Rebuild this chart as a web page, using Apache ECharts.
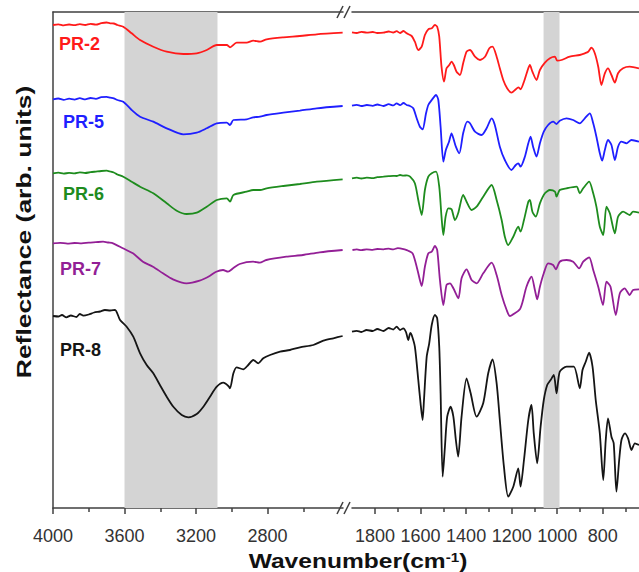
<!DOCTYPE html>
<html><head><meta charset="utf-8">
<script src="https://cdn.jsdelivr.net/npm/echarts@6/dist/echarts.min.js"></script>
<style>html,body{margin:0;padding:0;background:#fff}#c{width:639px;height:572px}</style>
</head><body><div id="c"></div>
<script>
// ---- data (wavenumber cm-1, reflectance arb. units, offset stacked) ----
const seriesNames = ['PR-2', 'PR-5', 'PR-6', 'PR-7', 'PR-8'];
const seriesColors = ['#ff1a1a', '#1f1fff', '#1e8c1e', '#931f96', '#151515'];
const leftLabels = [4000, 3600, 3200, 2800];
const leftMinor = [3800, 3400, 3000, 2600];
const rightLabels = [1800, 1600, 1400, 1200, 1000, 800];
const rightMinor = [1700, 1500, 1300, 1100, 900, 700];
const shadeLeft = [3600, 3080];
const shadeRight = [1060, 990];

const pr2Left = [[4000,483],[3970,483.7],[3940,482.6],[3910,483.5],[3880,482.8],[3850,483.9],[3820,483],[3790,484.2],[3760,483.3],[3730,484.8],[3700,485.5],[3680,484.6],[3660,484.5],[3640,483],[3607,481.3],[3560,474.7],[3513,468],[3439,461.3],[3364,456.3],[3271,454],[3196,454.7],[3140,458],[3084,463],[3028,463],[3010,460.7],[2973,465.3],[2917,465.3],[2880,467.3],[2842,466.3],[2805,468.7],[2712,470.7],[2619,472],[2525,473.7],[2380,475.3]];
const pr2Right = [[1901,475.7],[1880,475],[1860,476.2],[1836,475.3],[1810,476],[1790,475],[1763,475.3],[1740,476.5],[1720,475.5],[1705,476.8],[1690,475],[1675,477],[1661,474.7],[1639,472],[1625,466.3],[1610,458],[1595,461.3],[1581,473],[1566,478.7],[1551,479.7],[1537,483],[1527,481.3],[1518,471.3],[1508,441.3],[1497,426.3],[1486,439.7],[1474,443],[1464,446.3],[1454,443],[1442,436.3],[1427,433],[1413,444.7],[1398,456.3],[1383,458],[1361,451.3],[1339,448],[1317,451.3],[1298,459.7],[1284,461.3],[1266,451.3],[1252,439.7],[1237,428],[1220,419.7],[1201,415.3],[1182,418.7],[1171,420.7],[1161,418.7],[1146,426.3],[1132,436.3],[1120,443],[1109,436.3],[1091,428],[1076,438],[1054,445.3],[1032,449.7],[1010,451.3],[1000,447.3],[981,448],[945,451.3],[901,453],[879,454.7],[864,456.3],[850,460.3],[835,454.7],[820,441.3],[806,423],[791,434.7],[777,439.7],[762,433],[747,425.3],[733,434.7],[711,439.7],[682,441.3],[641,439.7]];

const pr5Left = [[4000,408.7],[3970,409.5],[3940,408.2],[3910,409.3],[3880,408.4],[3850,409.8],[3820,408.6],[3790,410],[3760,409.2],[3730,410.8],[3700,411.2],[3680,410.3],[3660,409.7],[3640,408],[3607,406.3],[3560,398],[3513,391.3],[3439,386.3],[3364,379.7],[3271,373.7],[3196,375.3],[3140,379.7],[3084,384.7],[3028,385.3],[3010,383],[2991,388],[2917,388.7],[2880,390.7],[2842,391.3],[2805,393],[2712,395.3],[2619,397.3],[2525,399.7],[2380,402]];
const pr5Right = [[1901,402.3],[1880,403.2],[1860,402],[1836,403],[1810,402.2],[1790,403.5],[1763,402],[1740,403.8],[1720,402.6],[1705,404.7],[1690,402.8],[1675,405],[1661,403],[1647,402],[1632,399.7],[1617,389.7],[1603,381.3],[1591,378.7],[1576,394.7],[1566,403],[1551,408],[1532,413],[1522,408],[1512,381.3],[1500,346.3],[1489,358],[1475,366.3],[1464,374.7],[1456,369.7],[1445,361.3],[1430,354.7],[1413,374.7],[1395,386.3],[1383,384.7],[1361,376.3],[1332,373],[1310,379.7],[1288,389.7],[1274,383],[1252,361.3],[1230,348],[1201,338],[1182,343],[1171,344.7],[1161,341.3],[1142,351.3],[1127,364.7],[1117,371.3],[1106,361.3],[1091,351.3],[1076,364.7],[1059,376.3],[1040,383],[1018,386.3],[1003,384],[989,387.3],[959,389.7],[930,388],[901,384.7],[879,389.7],[857,394.7],[842,384.7],[828,371.3],[813,354.7],[803,347.3],[791,358],[777,368],[762,363],[747,348],[733,361.3],[718,366.3],[696,364.7],[674,368],[641,366.3]];

const pr6Left = [[4000,334.7],[3970,335.3],[3940,334.4],[3910,335.1],[3880,334.6],[3850,335.6],[3820,335],[3790,335.8],[3760,336.4],[3730,337],[3700,337.3],[3680,336.5],[3660,335.5],[3640,333.5],[3607,331.3],[3560,326.3],[3513,321.3],[3439,314.7],[3364,304.7],[3308,297.3],[3252,294],[3196,295.3],[3140,301.3],[3084,308],[3028,309.7],[3010,306.3],[2991,313],[2917,316.3],[2880,318],[2842,318],[2805,319.7],[2712,322],[2619,324],[2525,326.3],[2380,328.7]];
const pr6Right = [[1901,329.7],[1880,330.4],[1860,329.5],[1836,330.3],[1810,329.8],[1790,330.8],[1763,331.3],[1740,331.8],[1720,332.2],[1705,332],[1690,333],[1675,332.4],[1660,332.6],[1646,331.3],[1625,324.7],[1610,308],[1595,293],[1581,318],[1566,331.3],[1551,334.7],[1532,336.3],[1518,321.3],[1508,291.3],[1500,273],[1490,291.3],[1478,299.7],[1464,298.7],[1449,288],[1435,294.7],[1413,313],[1398,306.3],[1376,298],[1354,301.3],[1325,311.3],[1288,323],[1266,308],[1244,288],[1230,271.3],[1215,263],[1193,271.3],[1171,281.3],[1161,276.3],[1146,288],[1127,306.3],[1120,308],[1109,296.3],[1094,291.3],[1076,304.7],[1054,314.7],[1032,318],[1010,316.3],[1003,311.3],[989,318],[959,319.7],[915,321.3],[901,314.7],[886,319.7],[860,326.3],[842,314.7],[828,301.3],[813,281.3],[798,273],[784,301.3],[769,294.7],[747,274.7],[733,291.3],[711,296.3],[682,293],[667,296.3],[641,295.3]];

const pr7Left = [[4000,264.7],[3960,265.2],[3920,264.4],[3880,265],[3840,264.6],[3800,265.4],[3760,265.8],[3720,266.3],[3690,265.5],[3664,264.7],[3609,259.7],[3553,254.7],[3497,246.3],[3441,241.3],[3385,234.7],[3329,228.7],[3254,224.7],[3180,227.3],[3124,232],[3087,236.3],[3049,238],[3021,236.3],[2993,239.7],[2956,244],[2881,246.3],[2844,245.3],[2807,248],[2695,251.3],[2602,253],[2509,255.7],[2380,258]];
const pr7Right = [[1899,258],[1880,258.6],[1860,257.8],[1837,258.7],[1810,258.2],[1790,259],[1763,258.7],[1740,259.4],[1720,258.6],[1700,259.9],[1690,259.7],[1670,258.6],[1654,257.3],[1635,254.7],[1617,241.3],[1603,228],[1595,222],[1581,241.3],[1566,254.7],[1551,256.3],[1537,262],[1527,258],[1515,228],[1500,203],[1486,223],[1471,224.7],[1456,219.7],[1434,209.7],[1420,229.7],[1398,238.7],[1376,228],[1354,224.7],[1325,234.7],[1288,245.3],[1266,233],[1244,213],[1222,198],[1208,192],[1186,194.7],[1164,198.7],[1152,206.3],[1135,221.3],[1113,231.3],[1098,218],[1088,208.7],[1076,221.3],[1059,234.7],[1040,244.7],[1018,243],[1006,238.7],[989,246.3],[959,248],[930,246.3],[904,239.7],[886,246.3],[860,250.7],[842,238],[820,221.3],[799,203],[784,226.3],[766,221.3],[743,193],[725,214.7],[704,219.7],[682,213],[667,218],[641,218.7]];

const pr8Left = [[4000,192],[3970,191.5],[3950,193],[3925,190.7],[3900,192.5],[3870,191],[3850,194],[3830,192.3],[3800,193.5],[3770,195.5],[3737,196.5],[3710,198],[3680,197.5],[3653,198],[3625,188],[3588,181.3],[3551,171.3],[3513,154.7],[3476,143],[3439,134.7],[3402,123],[3364,111.3],[3327,101.3],[3280,93],[3243,90.7],[3196,94],[3159,101.3],[3122,111.3],[3084,121.3],[3047,125.3],[3019,122],[3010,119.7],[2991,134.7],[2973,140.7],[2936,138.7],[2908,143],[2880,148],[2852,144.7],[2824,149.7],[2786,153],[2730,156.3],[2675,158],[2619,160.7],[2544,163],[2488,167.3],[2432,169.7],[2380,172]];
const pr8Right = [[1901,176.3],[1880,177.2],[1860,176],[1837,178],[1810,177],[1790,179],[1763,177],[1740,180],[1720,178.5],[1705,181.3],[1690,178],[1676,179.7],[1664,176],[1654,168],[1645,175],[1639,173],[1625,161.3],[1610,128],[1600,104.7],[1591,88],[1585,108],[1573,151.3],[1562,164.7],[1551,183],[1537,193],[1527,189.7],[1518,161.3],[1512,114.7],[1503,31.3],[1493,61.3],[1483,91.3],[1468,101.3],[1456,91.3],[1445,68],[1435,51.3],[1420,91.3],[1398,129.7],[1380,114.7],[1354,91.3],[1325,104.7],[1303,134.7],[1284,148.7],[1266,124.7],[1252,88],[1234,41.3],[1215,11.3],[1193,21.3],[1171,39.7],[1161,21.3],[1146,48],[1127,88],[1113,103],[1103,74.7],[1088,44.7],[1073,81.3],[1059,108],[1044,123],[1029,128],[1015,133],[1003,114.7],[989,136.3],[959,141.3],[927,141.3],[901,119.7],[889,138],[875,146.3],[860,155.3],[845,141.3],[831,108],[813,74.7],[798,28],[787,68],[777,89.7],[762,71.3],[752,64.7],[740,16.3],[728,48],[718,68],[703,74.7],[689,69.7],[674,58],[659,64.7],[641,63]];

const leftData = [pr2Left, pr5Left, pr6Left, pr7Left, pr8Left];
const rightData = [pr2Right, pr5Right, pr6Right, pr7Right, pr8Right];

// ---- chart ----
const FONT = 'Liberation Sans, Arial, sans-serif';
const AX = '#404040';
const chart = echarts.init(document.getElementById('c'), null, {renderer: 'svg'});
const plain = v => String(v);

function baseX(grid, min, max) {
  return {gridIndex: grid, type: 'value', inverse: true, min: min, max: max,
    splitLine: {show: false}, axisLabel: {show: false}, axisTick: {show: false}, axisLine: {show: false}};
}
const xAxes = [];
// grid 0
xAxes.push(Object.assign(baseX(0, 2378, 4000), {position: 'bottom',
  axisLine: {show: true, onZero: false, lineStyle: {color: AX, width: 1.5}},
  axisTick: {show: true, customValues: leftLabels, length: 6, lineStyle: {color: AX, width: 1.5}},
  axisLabel: {show: true, customValues: leftLabels, formatter: plain, fontSize: 18, color: '#333', fontFamily: FONT, margin: 19}}));
xAxes.push(Object.assign(baseX(0, 2378, 4000), {position: 'bottom',
  axisTick: {show: true, customValues: leftMinor, length: 4, lineStyle: {color: AX, width: 1.5}}}));
xAxes.push(Object.assign(baseX(0, 2378, 4000), {position: 'top',
  axisLine: {show: true, onZero: false, lineStyle: {color: AX, width: 1.5}}}));
// grid 1
xAxes.push(Object.assign(baseX(1, 641, 1901), {position: 'bottom',
  axisLine: {show: true, onZero: false, lineStyle: {color: AX, width: 1.5}},
  axisTick: {show: true, customValues: rightLabels, length: 6, lineStyle: {color: AX, width: 1.5}},
  axisLabel: {show: true, customValues: rightLabels, formatter: plain, fontSize: 18, color: '#333', fontFamily: FONT, margin: 19}}));
xAxes.push(Object.assign(baseX(1, 641, 1901), {position: 'bottom',
  axisTick: {show: true, customValues: rightMinor, length: 4, lineStyle: {color: AX, width: 1.5}}}));
xAxes.push(Object.assign(baseX(1, 641, 1901), {position: 'top',
  axisLine: {show: true, onZero: false, lineStyle: {color: AX, width: 1.5}}}));

const series = [];
series.push({type: 'line', xAxisIndex: 0, yAxisIndex: 0, data: [], z: 1, silent: true,
  markArea: {silent: true, itemStyle: {color: '#d4d4d4', opacity: 1},
    data: [[{xAxis: shadeLeft[0]}, {xAxis: shadeLeft[1]}]]}});
series.push({type: 'line', xAxisIndex: 3, yAxisIndex: 1, data: [], z: 1, silent: true,
  markArea: {silent: true, itemStyle: {color: '#d4d4d4', opacity: 1},
    data: [[{xAxis: shadeRight[0]}, {xAxis: shadeRight[1]}]]}});
seriesNames.forEach((name, i) => {
  const common = {type: 'line', name: name, showSymbol: false, symbol: 'none', z: 3,
    smooth: 0.25, lineStyle: {color: seriesColors[i], width: 1.8}, itemStyle: {color: seriesColors[i]}, clip: true};
  series.push(Object.assign({}, common, {xAxisIndex: 0, yAxisIndex: 0, data: leftData[i]}));
  series.push(Object.assign({}, common, {xAxisIndex: 3, yAxisIndex: 1, data: rightData[i]}));
});

const labelPos = [[59, 44], [63, 122], [63, 194], [60, 269], [60, 350]];
const graphics = seriesNames.map((n, i) => ({
  type: 'text', silent: true, z: 10,
  style: {x: labelPos[i][0], y: labelPos[i][1], text: n, fill: seriesColors[i],
    font: 'bold 18px ' + FONT, verticalAlign: 'middle', align: 'left'}
}));
// axis-break marks
[[12], [508]].forEach(([yy]) => {
  [[337, 343], [344, 350]].forEach(([a, b]) => {
    graphics.push({type: 'line', silent: true, z: 10,
      shape: {x1: a, y1: yy + 6, x2: b, y2: yy - 6}, style: {stroke: AX, lineWidth: 1.5}});
  });
});
// axis titles
graphics.push({type: 'text', silent: true, z: 10, x: 358, y: 561, scaleX: 1.17,
  style: {x: 0, y: 0, text: 'Wavenumber(cm{sup|-1})', fill: '#111', font: 'bold 21px ' + FONT,
    align: 'center', verticalAlign: 'middle',
    rich: {sup: {fontSize: 13, fontWeight: 'bold', fontFamily: FONT, fill: '#111', verticalAlign: 'top', padding: [0, 0, 7, 0]}}}});
graphics.push({type: 'text', silent: true, z: 10, x: 24, y: 232, rotation: Math.PI / 2, scaleX: 1.26,
  style: {x: 0, y: 0, text: 'Reflectance (arb. units)', fill: '#111', font: 'bold 21px ' + FONT,
    align: 'center', verticalAlign: 'middle'}});

chart.setOption({
  animation: false,
  backgroundColor: '#fff',
  grid: [
    {left: 53, top: 12, width: 290, height: 496},
    {left: 352, top: 12, width: 287, height: 496}
  ],
  xAxis: xAxes,
  yAxis: [
    {gridIndex: 0, type: 'value', min: 0, max: 496,
      axisLine: {show: true, onZero: false, lineStyle: {color: AX, width: 1.5}},
      axisTick: {show: false}, axisLabel: {show: false}, splitLine: {show: false}},
    {gridIndex: 1, type: 'value', min: 0, max: 496, show: false}
  ],
  series: series,
  graphic: graphics
});
</script></body></html>
